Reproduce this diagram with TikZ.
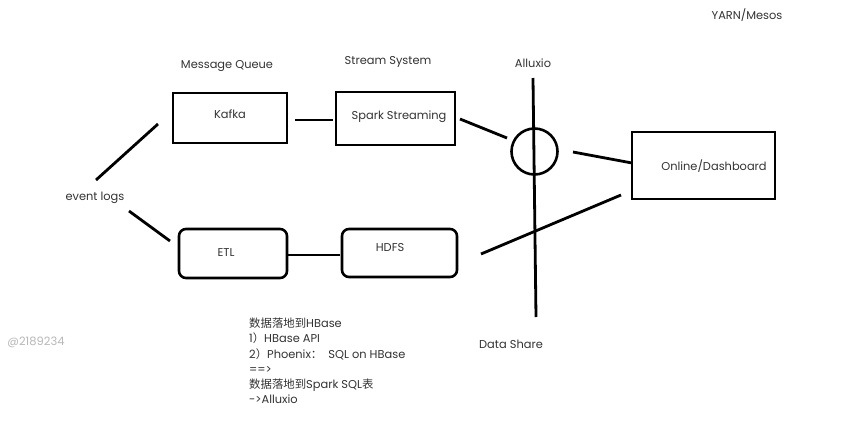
\documentclass[tikz,border=0pt]{standalone}
\usepackage{fontspec}
\setmainfont{Poppins}
\newfontfamily\cjk{Noto Sans CJK SC}
\definecolor{txt}{HTML}{333333}
\definecolor{wm}{HTML}{B8B8B8}
\begin{document}
\begin{tikzpicture}[x=1pt,y=-1pt,
  lbl/.style={text=txt,font=\fontsize{11.4}{13}\selectfont,inner sep=0pt},
  sqbox/.style={draw,line width=2.6pt,minimum width=0pt,inner sep=0pt},
  rbox/.style={draw,line width=2.6pt,rounded corners=7pt,inner sep=0pt},
  wire/.style={line width=2.8pt}]
\useasboundingbox[fill=white] (0,0) rectangle (863,437);
% boxes
\node[sqbox,minimum width=114pt,minimum height=50pt] (kafka) at (230,118) {};
\node[lbl] (kafkat) at (230,114) {Kafka};
\node[sqbox,minimum width=119pt,minimum height=53pt] (spark) at (395.5,118.5) {};
\node[lbl] (sparkt) at (399,117) {Spark Streaming};
\node[sqbox,minimum width=143pt,minimum height=67pt] (online) at (703.5,165.5) {};
\node[lbl] (onlinet) at (714,166) {Online/Dashboard};
\node[rbox,minimum width=108pt,minimum height=49pt] (etl) at (233,253.5) {};
\node[lbl] (etlt) at (226,253) {ETL};
\node[rbox,minimum width=115pt,minimum height=48pt] (hdfs) at (399.5,253) {};
\node[lbl] (hdfst) at (390,248) {HDFS};
\node[draw,circle,line width=2.6pt,minimum size=46pt,inner sep=0pt] (alx) at (534.5,151.5) {};
% labels
\node[lbl] (mq) at (227,66) {Message Queue};
\node[lbl] (ss) at (388,62) {Stream System};
\node[lbl] (alxl) at (533,63) {Alluxio};
\node[lbl] (ds) at (511,344) {Data Share};
\node[lbl] (yarn) at (747,15) {YARN/Mesos};
\node[lbl] (ev) at (95,198) {event logs};
\node[text=wm,font=\fontsize{11.5}{13}\selectfont,inner sep=0pt] (wmk) at (36,342) {@2189234};
\node[text=txt,font=\fontsize{11.4}{15.2}\selectfont,align=left,anchor=north west,inner sep=0pt] (notes) at (249,318)
 {{\cjk 数据落地到}HBase\\
  1{\cjk ）}HBase API\\
  2{\cjk ）}Phoenix{\cjk ：}\ \ SQL on HBase\\
  ==>\\
  {\cjk 数据落地到}Spark SQL{\cjk 表}\\
  ->Alluxio};
% connector end points
\coordinate (e1) at (96,180); \coordinate (k1) at (158,124);
\coordinate (e2) at (129,211); \coordinate (t1) at (170,241);
\coordinate (ka) at (295,120); \coordinate (sa) at (333,120);
\coordinate (sp) at (460,119); \coordinate (ca) at (507,138);
\coordinate (cb) at (573,152); \coordinate (oa) at (632,163);
\coordinate (ea) at (288,255); \coordinate (ha) at (340,255);
\coordinate (hx) at (481,254); \coordinate (ox) at (621,195);
\coordinate (vt) at (533,78); \coordinate (vb) at (536,317);
% connectors
\draw[wire] (e1) -- (k1);
\draw[wire] (e2) -- (t1);
\draw[wire] (ka) -- (sa);
\draw[wire] (sp) -- (ca);
\draw[wire] (cb) -- (oa);
\draw[wire] (ea) -- (ha);
\draw[wire] (hx) -- (ox);
\draw[wire] (vt) -- (vb);
\end{tikzpicture}
\end{document}
